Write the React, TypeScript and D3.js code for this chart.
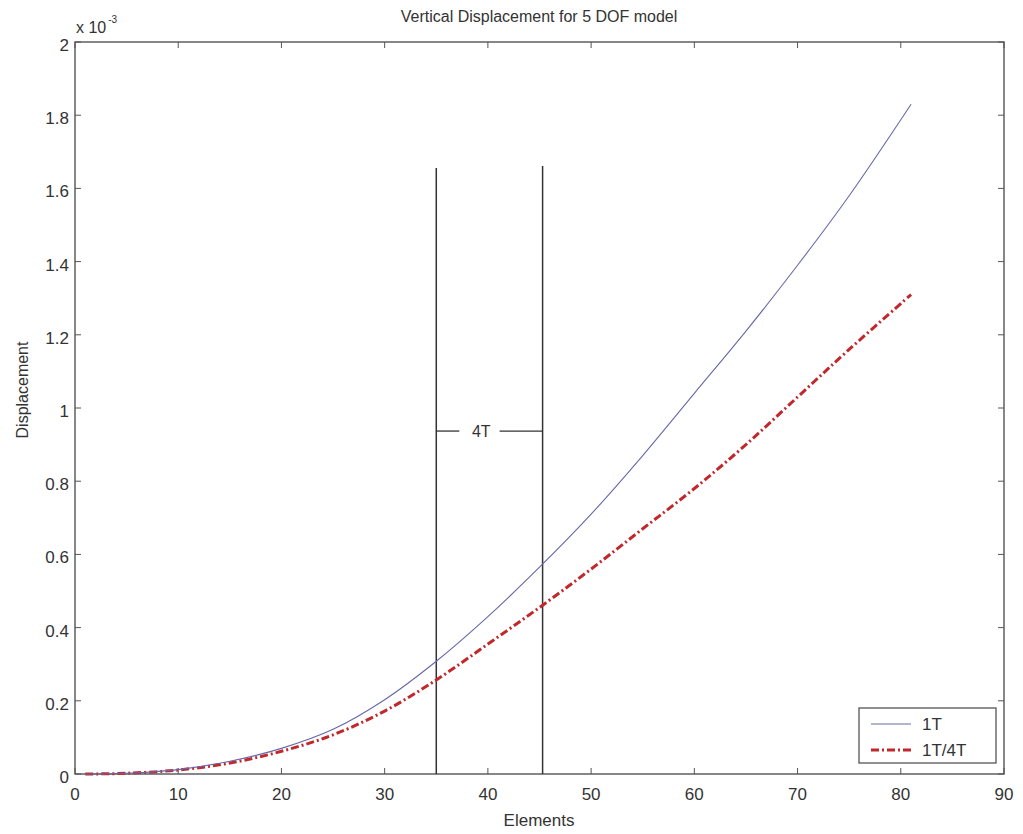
import React from "react";
import * as d3 from "d3";

// Element index along the beam
const elements = [1, 5, 10, 15, 20, 25, 30, 35, 40, 45, 50, 55, 60, 65, 70, 75, 81];
// Vertical displacement (x 10^-3) for each configuration
const disp1T = [0, 0.002, 0.012, 0.035, 0.07, 0.122, 0.203, 0.308, 0.43, 0.565, 0.71, 0.87, 1.04, 1.21, 1.39, 1.58, 1.83];
const disp1T4T = [0, 0.002, 0.011, 0.03, 0.062, 0.107, 0.172, 0.257, 0.355, 0.455, 0.56, 0.67, 0.78, 0.9, 1.03, 1.16, 1.31];

const xTicks = [0, 10, 20, 30, 40, 50, 60, 70, 80, 90];
const yTicks = [0, 0.2, 0.4, 0.6, 0.8, 1, 1.2, 1.4, 1.6, 1.8, 2];

// Section markers bounding the 4T region
const markerX = [35, 45.3];
const markerTop = [1.656, 1.661];
const bracketY = 0.937;

const W = 1023;
const H = 834;
const left = 75;
const right = 1004;
const top = 42;
const bottom = 774;

export default function App() {
  const x = d3.scaleLinear().domain([0, 90]).range([left, right]);
  const y = d3.scaleLinear().domain([0, 2]).range([bottom, top]);
  const line = d3
    .line<number>()
    .x((_, i) => x(elements[i]))
    .y((d) => y(d))
    .curve(d3.curveCatmullRom.alpha(0.5));

  const axisColor = "#555";
  const textColor = "#333";
  const font = "Liberation Sans, Arial, sans-serif";
  const tickLen = 6;
  const tickFont = 17;

  const xm0 = x(markerX[0]);
  const xm1 = x(markerX[1]);
  const yb = y(bracketY);

  return (
    <svg
      width={W}
      height={H}
      style={{ position: "absolute", left: 0, top: 0, background: "#fff" }}
      fontFamily={font}
    >
      <rect x={0} y={0} width={W} height={H} fill="#fff" />
      {/* title */}
      <text x={539} y={22} textAnchor="middle" fontSize={16} fill={textColor}>
        Vertical Displacement for 5 DOF model
      </text>

      {/* axes box */}
      <rect x={left} y={top} width={right - left} height={bottom - top} fill="none" stroke={axisColor} strokeWidth={1.4} />

      {/* x ticks */}
      {xTicks.map((t) => (
        <g key={"x" + t}>
          <line x1={x(t)} x2={x(t)} y1={bottom} y2={bottom - tickLen} stroke={axisColor} />
          <line x1={x(t)} x2={x(t)} y1={top} y2={top + tickLen} stroke={axisColor} />
          <text x={x(t)} y={bottom + 26} textAnchor="middle" fontSize={tickFont} fill={textColor}>
            {t}
          </text>
        </g>
      ))}
      {/* y ticks */}
      {yTicks.map((t) => (
        <g key={"y" + t}>
          <line x1={left} x2={left + tickLen} y1={y(t)} y2={y(t)} stroke={axisColor} />
          <line x1={right} x2={right - tickLen} y1={y(t)} y2={y(t)} stroke={axisColor} />
          <text x={left - 6} y={y(t) + 9} textAnchor="end" fontSize={tickFont} fill={textColor}>
            {d3.format("~g")(+t.toFixed(1))}
          </text>
        </g>
      ))}
      {/* exponent label */}
      <text x={76} y={33} fontSize={16} fill={textColor}>
        x 10
        <tspan dx={2} dy={-10} fontSize={10}>-3</tspan>
      </text>

      {/* axis labels */}
      <text x={539} y={826} textAnchor="middle" fontSize={17} fill={textColor}>
        Elements
      </text>
      <text
        transform={`translate(28, 390) rotate(-90)`}
        textAnchor="middle"
        fontSize={16}
        fill={textColor}
      >
        Displacement
      </text>

      {/* section markers */}
      {markerX.map((m, i) => (
        <line key={"m" + i} x1={x(m)} x2={x(m)} y1={y(markerTop[i])} y2={bottom} stroke="#333" strokeWidth={1.5} />
      ))}
      <line x1={xm0} x2={xm0 + 23} y1={yb} y2={yb} stroke="#333" strokeWidth={1.3} />
      <line x1={xm1 - 43} x2={xm1} y1={yb} y2={yb} stroke="#333" strokeWidth={1.3} />
      <text x={xm0 + 45} y={yb + 6} textAnchor="middle" fontSize={16} fill={textColor}>
        4T
      </text>

      {/* curves */}
      <path d={line(disp1T4T) ?? ""} fill="none" stroke="#c0282c" strokeWidth={3} strokeDasharray="8 3 2 3" />
      <path d={line(disp1T) ?? ""} fill="none" stroke="#6868a8" strokeWidth={1.1} />

      {/* legend */}
      <rect x={859} y={708} width={137} height={55} fill="#fff" stroke={axisColor} strokeWidth={1.3} />
      <line x1={871} x2={911} y1={724} y2={724} stroke="#6868a8" strokeWidth={1.1} />
      <line x1={871} x2={911} y1={750} y2={750} stroke="#c0282c" strokeWidth={3} strokeDasharray="8 3 2 3" />
      <text x={922} y={730} fontSize={17} fill={textColor}>1T</text>
      <text x={922} y={756} fontSize={17} fill={textColor}>1T/4T</text>
    </svg>
  );
}
